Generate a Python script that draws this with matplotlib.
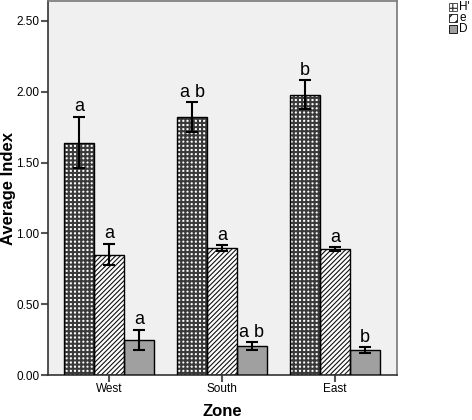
import numpy as np
import matplotlib as mpl
import matplotlib.pyplot as plt
from matplotlib.patches import Rectangle

zones = ['West', 'South', 'East']
series = ["H'", 'e', 'D']

h_mean = [1.64, 1.82, 1.98]
h_err = [0.18, 0.105, 0.10]
e_mean = [0.85, 0.895, 0.887]
e_err = [0.075, 0.02, 0.015]
d_mean = [0.25, 0.204, 0.176]
d_err = [0.07, 0.027, 0.02]

h_letters = ['a', 'a b', 'b']
e_letters = ['a', 'a', 'a']
d_letters = ['a', 'a b', 'b']

yticks = [0.0, 0.5, 1.0, 1.5, 2.0, 2.5]

plt.rcParams['font.family'] = ['Liberation Sans', 'DejaVu Sans']

fig = plt.figure(figsize=(4.72, 4.2), dpi=100)
ax = fig.add_axes([48 / 472, 45 / 420, 349 / 472, 374 / 420])
ax.set_facecolor('#f0f0f0')

x = np.arange(len(zones))
w = 0.265
styles = [
    dict(facecolor='white', hatch='++++', hcolor='#3a3a3a', hlw=1.5),
    dict(facecolor='white', hatch='///////', hcolor='#111111', hlw=0.8),
    dict(facecolor='#a0a0a0', hatch=None, hcolor='black', hlw=1.0),
]
means = [h_mean, e_mean, d_mean]
errs = [h_err, e_err, d_err]
letters = [h_letters, e_letters, d_letters]

for i in range(3):
    pos = x + (i - 1) * w
    st = styles[i]
    mpl.rcParams['hatch.linewidth'] = st['hlw']
    ax.bar(pos, means[i], w, color=st['facecolor'], hatch=st['hatch'],
           edgecolor=st['hcolor'], linewidth=0, zorder=2)
    ax.bar(pos, means[i], w, fill=False, edgecolor='black', linewidth=1.0, zorder=3)
    ax.errorbar(pos, means[i], yerr=errs[i], fmt='none', ecolor='black',
                elinewidth=1.5, capsize=4, capthick=1.5, zorder=4)
    for p, m, e, lab in zip(pos, means[i], errs[i], letters[i]):
        ax.text(p, m + e + 0.012, lab, ha='center', va='bottom', fontsize=13, zorder=5)

ax.set_xlim(-0.54, 2.55)
ax.set_ylim(0, 2.64)
ax.set_xticks(x)
ax.set_xticklabels(zones, fontsize=8.5)
ax.set_yticks(yticks)
ax.set_yticklabels(['%.2f' % v for v in yticks], fontsize=8.5)
ax.tick_params(length=5, width=1.5, color='#555555', pad=1)
ax.set_xlabel('Zone', fontsize=12, fontweight='bold')
ax.set_ylabel('Average Index', fontsize=12, fontweight='bold')
ax.xaxis.set_label_coords(174 / 349, -(411 - 375) / 374)
ax.yaxis.set_label_coords(-(48 - 9) / 349, 0.5)
ax.xaxis.label.set_va('center')
ax.yaxis.label.set_va('center')
for s in ['left', 'bottom']:
    ax.spines[s].set_color('#333333')
    ax.spines[s].set_linewidth(1.2)
for s in ['top', 'right']:
    ax.spines[s].set_color('#777777')
    ax.spines[s].set_linewidth(1.2)

# legend drawn outside the axes, at the top right corner
leg_top = [3, 14, 25]
mpl.rcParams['hatch.linewidth'] = 0.9
for i in range(3):
    st = styles[i]
    yb = (420 - leg_top[i] - 8) / 420
    fig.patches.append(Rectangle((449 / 472, yb), 8 / 472, 8 / 420,
                                 transform=fig.transFigure, facecolor=st['facecolor'],
                                 hatch=st['hatch'][:3] if st['hatch'] else None,
                                 edgecolor=st['hcolor'], linewidth=0.6))
    fig.text(459 / 472, yb + 4 / 420, series[i], fontsize=8.5, va='center', ha='left')

fig.savefig('out.png', dpi=100)
